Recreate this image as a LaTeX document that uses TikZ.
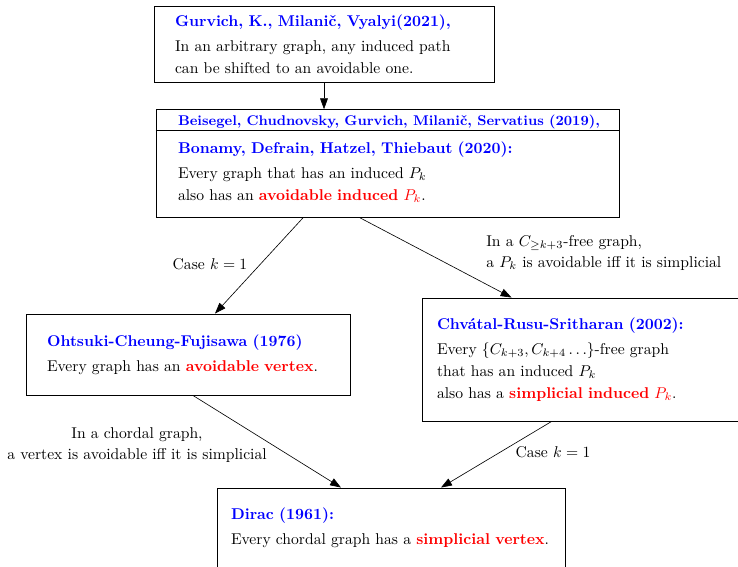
\documentclass[tikz,border=0pt]{standalone}
\usetikzlibrary{arrows.meta}

\newcommand{\who}[1]{\textcolor{blue}{\textbf{#1}}}
\newcommand{\hit}[1]{\textcolor{red}{#1}}

\begin{document}
\begin{tikzpicture}[x=0.64pt, y=-0.64pt,
    box/.style={draw, semithick, inner xsep=0pt, align=left},
    note/.style={inner sep=0pt},
    link/.style={-{Triangle[length=7pt, width=5pt]}, thin}]
    \useasboundingbox (0, 0) rectangle (738, 566);

        \node[box, minimum width=217.6pt, minimum height=48.64pt, text width=190.72pt] (gurvich) at (324, 44)
            {\who{Gurvich, K., Milani\v{c}, Vyalyi(2021),}\\[4pt]
             In an arbitrary graph, any induced path\\[2pt]
             can be shifted to an avoidable one.};
        \node[box, minimum width=296.32pt, minimum height=68.48pt, text width=268.16pt] (beisegel) at (387.5, 163.5)
            {\mbox{\small\who{Beisegel, Chudnovsky, Gurvich, Milani\v{c}, Servatius (2019),}}\\[6pt]
             \who{Bonamy, Defrain, Hatzel, Thiebaut (2020):}\\[4pt]
             Every graph that has an induced $P_k$\\[2pt]
             also has an \hit{\textbf{avoidable induced} $P_k$}.\\[-4.5pt]
             \mbox{}};
        \draw[semithick] ([yshift=-13.44pt]beisegel.north west) -- ([yshift=-13.44pt]beisegel.north east);
        \node[box, minimum width=207.36pt, minimum height=51.84pt, text width=180.48pt] (ohtsuki) at (188, 354.5)
            {\who{Ohtsuki-Cheung-Fujisawa (1976)}\\[4pt]
             Every graph has an \hit{\textbf{avoidable vertex}}.};
        \node[box, minimum width=217.6pt, minimum height=78.72pt, text width=198.4pt] (chvatal) at (592, 359.5)
            {\who{Chv\'atal-Rusu-Sritharan (2002):}\\[4pt]
             Every $\{C_{k+3}, C_{k+4}\ldots\}$-free graph\\[2pt]
             that has an induced $P_k$\\[2pt]
             also has a \hit{\textbf{simplicial induced} $P_k$}.};
        \node[box, minimum width=222.72pt, minimum height=51.2pt, text width=204.8pt] (dirac) at (391, 528)
            {\who{Dirac (1961):}\\[4pt]
             Every chordal graph has a \hit{\textbf{simplicial vertex}}.};

        % edge labels
        \node[note] (casea) at (210, 264) {Case $k = 1$};
        \node[note, anchor=west, align=left] (cfree) at (486, 253)
            {In a $C_{\geq k+3}$-free graph,\\[1.5pt]
             a $P_k$ is avoidable iff it is simplicial};
        \node[note, align=center] (chordal) at (137, 445)
            {In a chordal graph,\\[1.5pt]
             a vertex is avoidable iff it is simplicial};
        \node[note] (caseb) at (553, 452) {Case $k = 1$};

        % shifts are in pt (1 unit = 0.64pt)
        \draw[link] (gurvich.south) -- (gurvich.south |- beisegel.north);
        \draw[link] ([xshift=-54.08pt]beisegel.south) -- ([xshift=17.28pt]ohtsuki.north);
        \draw[link] ([xshift=-17.6pt]beisegel.south) -- ([xshift=57.6pt]chvatal.north west);
        \draw[link] ([xshift=3.2pt]ohtsuki.south) -- ([xshift=-32pt]dirac.north);
        \draw[link] ([xshift=83.2pt]chvatal.south west) -- ([xshift=32pt]dirac.north);
\end{tikzpicture}
\end{document}
